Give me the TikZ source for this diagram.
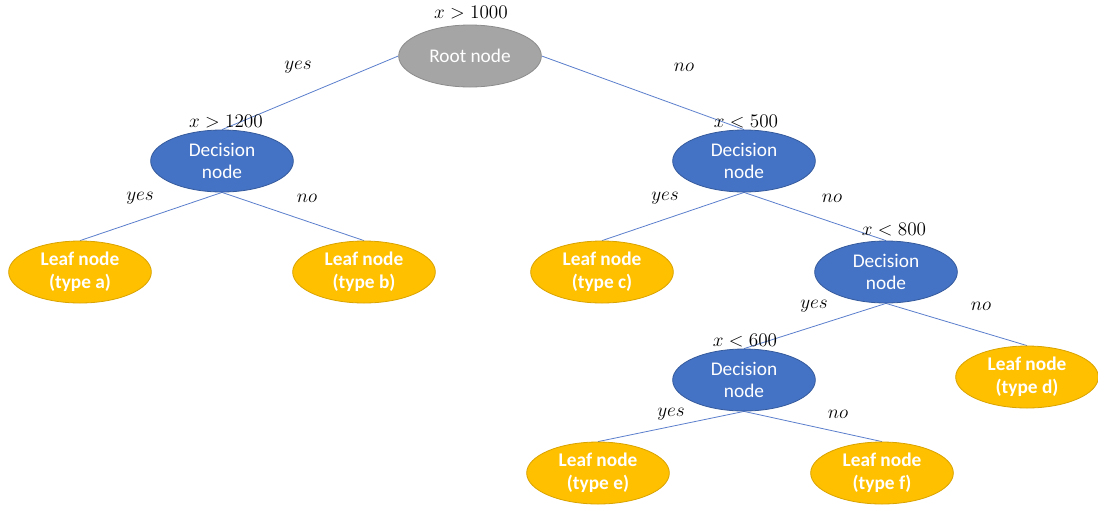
\documentclass[tikz,border=0pt]{standalone}
\usepackage{fontspec}
\setsansfont{Carlito}
\usetikzlibrary{shapes.geometric,backgrounds}
\definecolor{rootgray}{HTML}{A5A5A5}
\definecolor{decblue}{HTML}{4472C4}
\definecolor{leafgold}{HTML}{FFC000}
\definecolor{edgeblue}{HTML}{5B7FCC}
\tikzset{
  oval/.style={ellipse, inner sep=0pt, minimum width=107pt, minimum height=46.5pt,
    text=white, font=\sffamily\fontsize{14.5}{17}\selectfont, align=center, line width=0.6pt},
  rootnode/.style={oval, fill=rootgray, draw=rootgray!85!black},
  decnode/.style={oval, fill=decblue, draw=decblue!80!black},
  leafnode/.style={oval, fill=leafgold, draw=leafgold!85!black, font=\sffamily\bfseries\fontsize{14.5}{17}\selectfont},
  cond/.style={font=\fontsize{14.5}{16}\selectfont, inner sep=0pt},
  branch/.style={font=\fontsize{14}{16}\selectfont, inner sep=0pt},
  link/.style={draw=edgeblue, line width=0.6pt}
}
\begin{document}
\begin{tikzpicture}[x=0.75pt, y=-0.75pt]
\useasboundingbox (0,0) rectangle (1098,504);

% tree nodes
\node[rootnode] (root) at (470,56) {Root node};
\node[decnode] (dL) at (222,161) {Decision\\node};
\node[decnode] (dR) at (744,161) {Decision\\node};
\node[decnode] (dR2) at (886,272) {Decision\\node};
\node[decnode] (dR3) at (744,380) {Decision\\node};
\node[leafnode] (la) at (80,272) {Leaf node\\(type a)};
\node[leafnode] (lb) at (364,272) {Leaf node\\(type b)};
\node[leafnode] (lc) at (602,272) {Leaf node\\(type c)};
\node[leafnode] (ld) at (1027,377) {Leaf node\\(type d)};
\node[leafnode] (le) at (598,473) {Leaf node\\(type e)};
\node[leafnode] (lf) at (882,473) {Leaf node\\(type f)};

% white page and branches, kept behind the ovals
\begin{pgfonlayer}{background}
\fill[white] (0,0) rectangle (1098,504);
\draw[link] (root.west) -- (dL.north);
\draw[link] (root.east) -- (dR.north);
\draw[link] (dL.south) -- (la.north);
\draw[link] (dL.south) -- (lb.north);
\draw[link] (dR.south) -- (lc.north);
\draw[link] (dR.south) -- (dR2.north);
\draw[link] (dR2.south) -- (dR3.north);
\draw[link] (dR2.south) -- (ld.north);
\draw[link] (dR3.south) -- (le.north);
\draw[link] (dR3.south) -- (lf.north);
\end{pgfonlayer}

% split conditions
\node[cond] (c0) at (471,13) {$x>1000$};
\node[cond] (c1) at (226,122) {$x>1200$};
\node[cond] (c2) at (746,122) {$x<500$};
\node[cond] (c3) at (894,230) {$x<800$};
\node[cond] (c4) at (745,341) {$x<600$};

% branch labels
\node[branch] (b1) at (298,67) {$yes$};
\node[branch] (b2) at (684,67) {$no$};
\node[branch] (b3) at (140,198) {$yes$};
\node[branch] (b4) at (307,198) {$no$};
\node[branch] (b5) at (665,198) {$yes$};
\node[branch] (b6) at (832,198) {$no$};
\node[branch] (b7) at (814,306) {$yes$};
\node[branch] (b8) at (981,306) {$no$};
\node[branch] (b9) at (671,414) {$yes$};
\node[branch] (b10) at (838,414) {$no$};
\end{tikzpicture}
\end{document}
